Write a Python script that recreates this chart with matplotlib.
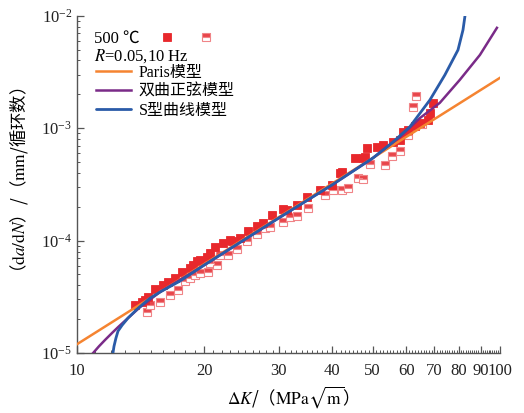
import matplotlib
matplotlib.use('Agg')
import matplotlib.pyplot as plt
from matplotlib.ticker import FixedLocator, NullFormatter, LogLocator

plt.rcParams['font.family'] = ['Liberation Serif', 'Noto Sans CJK SC']
plt.rcParams['mathtext.fontset'] = 'stix'
plt.rcParams['axes.unicode_minus'] = False

# 试验数据 500 ℃, R=0.05, 10 Hz
k_filled = [13.71, 14.24, 14.48, 14.72, 15.29, 15.97, 16.41, 17.05, 17.71, 18.50,
            18.80, 19.21, 19.53, 20.29, 20.62, 21.20, 22.14, 23.00, 23.25, 24.28,
            25.37, 26.64, 27.53, 28.91, 30.69, 31.37, 33.12, 34.99, 37.54, 40.08,
            41.86, 42.32, 45.42, 47.44, 47.96, 48.49, 51.20, 52.90, 55.85, 58.02,
            58.98, 60.61, 62.96, 64.70, 67.58, 68.32, 69.45]
rate_filled = [2.67e-5, 2.84e-5, 2.96e-5, 3.15e-5, 3.71e-5, 4.03e-5, 4.28e-5, 4.65e-5, 5.26e-5, 5.71e-5,
               6.07e-5, 6.59e-5, 6.72e-5, 7.15e-5, 7.76e-5, 8.77e-5, 9.52e-5, 1.01e-4, 9.92e-5, 1.05e-4,
               1.22e-4, 1.35e-4, 1.43e-4, 1.69e-4, 1.91e-4, 1.87e-4, 2.07e-4, 2.44e-4, 2.82e-4, 3.12e-4,
               3.99e-4, 4.08e-4, 5.43e-4, 5.43e-4, 5.54e-4, 6.67e-4, 6.80e-4, 7.09e-4, 7.54e-4, 7.85e-4,
               9.25e-4, 9.64e-4, 1.05e-3, 1.11e-3, 1.18e-3, 1.37e-3, 1.68e-3]

k_half = [14.64, 14.88, 15.71, 16.59, 17.33, 18.00, 18.50, 19.01, 19.53, 20.40,
          20.62, 21.43, 21.79, 22.75, 23.89, 25.23, 26.64, 27.83, 28.60, 30.69,
          31.88, 33.12, 35.18, 38.58, 40.30, 42.32, 43.72, 46.17, 47.44, 49.29,
          53.48, 55.55, 58.02, 59.62, 60.61, 65.41, 62.27, 63.30]
rate_half = [2.32e-5, 2.67e-5, 2.84e-5, 3.28e-5, 3.64e-5, 4.37e-5, 4.65e-5, 4.94e-5, 5.15e-5, 5.26e-5,
             6.32e-5, 6.07e-5, 7.45e-5, 7.45e-5, 8.42e-5, 9.92e-5, 1.15e-4, 1.29e-4, 1.32e-4, 1.46e-4,
             1.62e-4, 1.66e-4, 1.95e-4, 2.55e-4, 2.82e-4, 2.82e-4, 2.94e-4, 3.61e-4, 3.53e-4, 4.80e-4,
             4.71e-4, 5.66e-4, 6.27e-4, 8.88e-4, 8.70e-4, 1.09e-3, 1.54e-3, 1.93e-3]

# 模型曲线
k_paris = [10.0, 100.0]
rate_paris = [1.2e-5, 2.8e-3]

k_sinh = [10.91, 11.27, 11.65, 12.10, 12.50, 13.20, 14.09, 15.71, 20.0, 30.0,
          40.1, 50.1, 58.0, 64.7, 72.1, 80.4, 89.7, 98.4]
rate_sinh = [1.0e-5, 1.15e-5, 1.31e-5, 1.51e-5, 1.70e-5, 2.05e-5, 2.56e-5, 3.49e-5, 6.07e-5, 1.59e-4,
             3.13e-4, 5.43e-4, 8.35e-4, 1.23e-3, 1.68e-3, 2.69e-3, 4.48e-3, 7.80e-3]

k_s = [12.16, 12.23, 12.36, 12.50, 12.78, 13.20, 13.79, 14.32, 14.88, 15.71,
       17.52, 20.0, 30.0, 40.1, 50.1, 55.8, 61.25, 68.3, 74.1, 79.6, 81.8, 82.7]
rate_s = [1.0e-5, 1.15e-5, 1.36e-5, 1.57e-5, 1.77e-5, 2.05e-5, 2.41e-5, 2.73e-5, 3.08e-5, 3.49e-5,
          4.37e-5, 6.07e-5, 1.59e-4, 3.13e-4, 5.43e-4, 7.5e-4, 1.03e-3, 1.78e-3, 2.97e-3, 4.96e-3,
          7.48e-3, 1.0e-2]

x_ticks = [10, 20, 30, 40, 50, 60, 70, 80, 90, 100]

red = '#e8282c'
fig = plt.figure(figsize=(5.24, 4.13), dpi=100)
ax = fig.add_axes([0.147, 0.145, 0.807, 0.817])

filled_style = dict(linestyle='none', marker='s', markersize=5.5, color=red,
                    markeredgecolor=red, markeredgewidth=0.6)
half_style = dict(linestyle='none', marker='s', markersize=5.5, fillstyle='top',
                  markerfacecolor='#e8454a', markerfacecoloralt='white',
                  markeredgecolor='#f08487', markeredgewidth=0.8)

ax.plot(k_half, rate_half, zorder=2, **half_style)
ax.plot(k_filled, rate_filled, zorder=2, **filled_style)

l1, = ax.plot(k_paris, rate_paris, color='#f58431', lw=1.8, zorder=3, label='Paris模型')
l2, = ax.plot(k_sinh, rate_sinh, color='#7a2b88', lw=1.8, zorder=3, label='双曲正弦模型')
l3, = ax.plot(k_s, rate_s, color='#2a5ba8', lw=2.0, zorder=4, label='S型曲线模型',
              solid_capstyle='round')

ax.set_xscale('log')
ax.set_yscale('log')
ax.set_xlim(10, 100)
ax.set_ylim(1e-5, 1e-2)

ax.xaxis.set_major_locator(FixedLocator(x_ticks))
ax.set_xticklabels([str(t) for t in x_ticks])
ax.xaxis.set_minor_locator(FixedLocator([v for v in range(11, 100) if v % 10]))
ax.xaxis.set_minor_formatter(NullFormatter())
ax.yaxis.set_major_locator(LogLocator(base=10, numticks=10))
ax.yaxis.set_minor_locator(LogLocator(base=10, subs=range(2, 10), numticks=20))
ax.yaxis.set_minor_formatter(NullFormatter())

for s in ['top', 'right']:
    ax.spines[s].set_visible(False)
for s in ['left', 'bottom']:
    ax.spines[s].set_color('#555555')
    ax.spines[s].set_linewidth(1.0)
ax.tick_params(which='both', direction='in', colors='#555555', labelcolor='#222222',
               labelsize=12)
ax.tick_params(which='major', length=5, width=0.9)
ax.tick_params(which='minor', length=2.5, width=0.7)
ax.tick_params(axis='x', pad=7)

ax.set_xlabel(r'$\Delta K$/（$\mathrm{MPa}\sqrt{\mathrm{m}}$）', family='Noto Sans CJK SC',
              fontsize=12.5, labelpad=4)
ax.set_ylabel(r'（$\mathrm{d}a/\mathrm{d}N$）/（$\mathrm{mm}$/循环数）',
              family='Noto Sans CJK SC', fontsize=12.5, labelpad=8)

# 图例
ax.text(0.040, 0.931, '500 ℃', transform=ax.transAxes, fontsize=12,
        va='center', ha='left')
ax.plot([0.213], [0.936], transform=ax.transAxes, clip_on=False, **filled_style)
ax.plot([0.305], [0.936], transform=ax.transAxes, clip_on=False, **half_style)
ax.text(0.040, 0.880, r'$R$=0.05,10 Hz', transform=ax.transAxes, fontsize=12,
        va='center', ha='left')
ax.legend(handles=[l1, l2, l3], loc='upper left', bbox_to_anchor=(0.045, 0.855),
          frameon=False, borderpad=0, borderaxespad=0, handlelength=2.2,
          handletextpad=0.45, labelspacing=0.2, prop={'size': 11.5})

fig.savefig('out.png', dpi=100)
